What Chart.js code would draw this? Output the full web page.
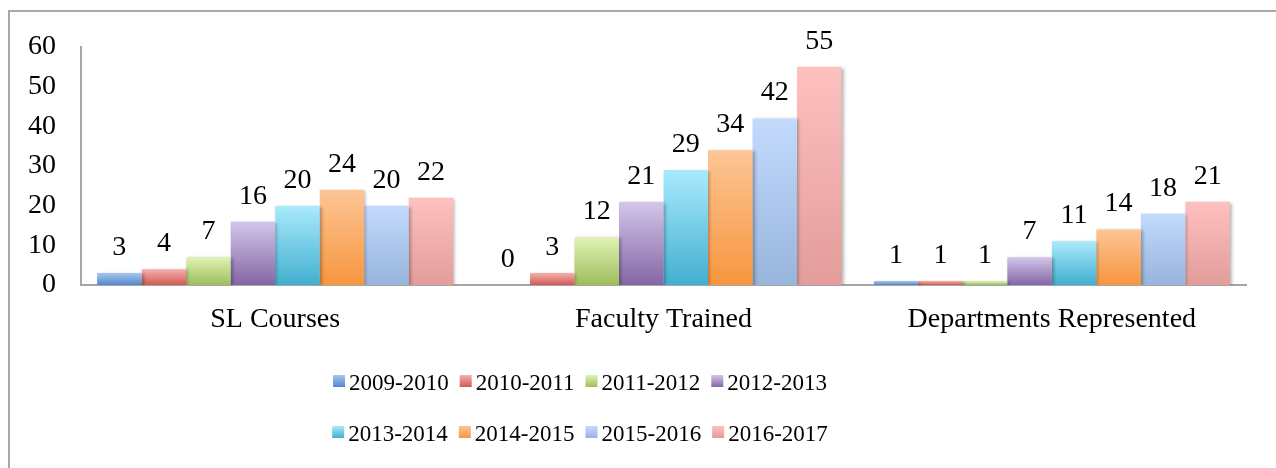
<!DOCTYPE html>
<html>
<head>
<meta charset="utf-8">
<script src="https://cdn.jsdelivr.net/npm/chart.js"></script>
<style>
html, body { margin: 0; background: #fff; overflow: hidden; }
#frame { position: absolute; left: 8px; top: 10px; width: 1268px; height: 458px; box-sizing: border-box;
  border-top: 2px solid #a8a8a8; border-left: 2px solid #a8a8a8; }
#myChart { position: absolute; left: 0; top: 0; }
</style>
</head>
<body>
<div id="frame"></div>
<canvas id="myChart" width="1276" height="468"></canvas>
<script>
var categories = ["SL Courses", "Faculty Trained", "Departments Represented"];
var years = ["2009-2010", "2010-2011", "2011-2012", "2012-2013",
             "2013-2014", "2014-2015", "2015-2016", "2016-2017"];

var y2009 = [3, 0, 1];
var y2010 = [4, 3, 1];
var y2011 = [7, 12, 1];
var y2012 = [16, 21, 7];
var y2013 = [20, 29, 11];
var y2014 = [24, 34, 14];
var y2015 = [20, 42, 18];
var y2016 = [22, 55, 21];
var seriesValues = [y2009, y2010, y2011, y2012, y2013, y2014, y2015, y2016];

var yTicks = [0, 10, 20, 30, 40, 50, 60];

// gradient ends per series: light at the top, dark at the base
var topColors = ["#a8c5f3", "#f6b0ad", "#dff2b4", "#d3c6ea", "#aaeafd", "#fdc596", "#c3dafd", "#fdc1c0"];
var baseColors = ["#5288c9", "#cf5a55", "#9fbd5c", "#8466a5", "#42afcf", "#f7963e", "#97b4dc", "#e39c9a"];

var serif = '"Liberation Serif", "Times New Roman", serif';

function barFill(top, base) {
  return function(c) {
    var chart = c.chart;
    if (!chart.chartArea || c.raw === undefined || !chart.scales.y) return base;
    var y0 = chart.scales.y.getPixelForValue(0);
    var y1 = chart.scales.y.getPixelForValue(c.raw);
    if (y0 - y1 < 1) return base;
    var g = chart.ctx.createLinearGradient(0, y1, 0, y0);
    g.addColorStop(0, top);
    g.addColorStop(1, base);
    return g;
  };
}

var datasets = years.map(function(year, i) {
  return {
    label: year,
    data: seriesValues[i],
    backgroundColor: barFill(topColors[i], baseColors[i]),
    borderWidth: 0,
    categoryPercentage: 0.917,
    barPercentage: 1
  };
});

// soft shadow behind bars, then the value labels
var barExtras = {
  id: "barExtras",
  beforeDatasetsDraw: function(chart) {
    var ctx = chart.ctx;
    ctx.save();
    ctx.shadowColor = "rgba(0,0,0,0.28)";
    ctx.shadowBlur = 3;
    ctx.shadowOffsetX = 2;
    ctx.shadowOffsetY = 1;
  },
  afterDatasetsDraw: function(chart) {
    var ctx = chart.ctx;
    ctx.restore();
    ctx.save();
    ctx.font = "28px " + serif;
    ctx.fillStyle = "#000";
    ctx.textAlign = "center";
    ctx.textBaseline = "alphabetic";
    chart.data.datasets.forEach(function(ds, i) {
      chart.getDatasetMeta(i).data.forEach(function(bar, j) {
        ctx.fillText(String(ds.data[j]), bar.x, bar.y - 18);
      });
    });
    ctx.restore();
  }
};

// two-row legend with gradient swatches
var legendRows = {
  id: "legendRows",
  afterDraw: function(chart) {
    var ctx = chart.ctx;
    var center = 580;
    var baselines = [390, 441];
    var box = 12, boxGap = 4, gap = 11;
    ctx.save();
    ctx.font = "23px " + serif;
    ctx.textBaseline = "alphabetic";
    ctx.textAlign = "left";
    for (var r = 0; r < 2; r++) {
      var idx = [0, 1, 2, 3].map(function(k) { return r * 4 + k; });
      var widths = idx.map(function(k) { return ctx.measureText(years[k]).width; });
      var total = widths.reduce(function(a, w) { return a + box + boxGap + w; }, 0) + gap * 3;
      var x = center - total / 2;
      var yb = baselines[r];
      idx.forEach(function(k, n) {
        var g = ctx.createLinearGradient(0, yb - 15, 0, yb - 3);
        g.addColorStop(0, topColors[k]);
        g.addColorStop(1, baseColors[k]);
        ctx.fillStyle = g;
        ctx.fillRect(x, yb - 15, box, box);
        ctx.fillStyle = "#000";
        ctx.fillText(years[k], x + box + boxGap, yb);
        x += box + boxGap + widths[n] + gap;
      });
    }
    ctx.restore();
  }
};

new Chart("myChart", {
  type: "bar",
  data: {
    labels: categories,
    datasets: datasets
  },
  plugins: [barExtras, legendRows],
  options: {
    responsive: false,
    animation: false,
    devicePixelRatio: 1,
    layout: { padding: { top: 47, right: 30, left: 0, bottom: 0 } },
    plugins: {
      legend: { display: false },
      tooltip: { enabled: false }
    },
    scales: {
      x: {
        grid: { display: false, drawTicks: false },
        border: { display: true, color: "#a6a6a6", width: 2 },
        ticks: { color: "#000", font: { family: serif, size: 28 }, padding: 18 },
        afterFit: function(s) { s.height = 183; }
      },
      y: {
        min: yTicks[0],
        max: yTicks[yTicks.length - 1],
        grid: { display: false, drawTicks: false },
        border: { display: true, color: "#a6a6a6", width: 2 },
        ticks: { stepSize: yTicks[1] - yTicks[0], color: "#000", font: { family: serif, size: 28 }, padding: 25 },
        afterFit: function(s) { s.width = 81; }
      }
    }
  }
});
</script>
</body>
</html>
